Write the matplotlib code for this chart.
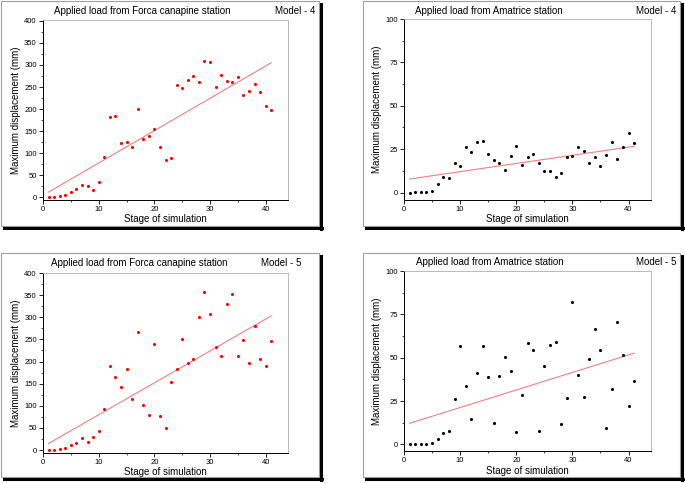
import numpy as np
import matplotlib
matplotlib.use("Agg")
import matplotlib.pyplot as plt
from matplotlib.patches import Rectangle
from matplotlib.lines import Line2D
from matplotlib.ticker import MultipleLocator

plt.rcParams['font.family'] = ['Liberation Sans', 'DejaVu Sans']

stage = list(range(1, 42))

forca_m4 = [0, 0, 2, 5, 12, 19, 29, 26, 17, 34, 92, 181, 184, 123, 125, 115, 200,
            133, 138, 155, 115, 85, 88, 254, 248, 265, 275, 261, 310, 307, 251,
            277, 264, 262, 272, 232, 241, 257, 238, 207, 197]
amatrice_m4 = [0, 0.2, 0.4, 0.2, 0.8, 5, 8.7, 8.5, 17.1, 15.2, 26, 23.5, 29.2, 29.6,
               22, 18.7, 17.1, 13.1, 21.2, 26.7, 15.9, 20.4, 22.5, 16.9, 12.3, 12.3,
               9.2, 11, 20.2, 20.8, 26.2, 23.7, 16.9, 20.6, 15.4, 21.5, 29, 19.4,
               26, 34.6, 28.5]
forca_m5 = [0, 0, 2, 5, 12, 17, 28, 19, 29, 44, 92, 190, 166, 143, 183, 116, 267,
            102, 80, 240, 77, 49, 153, 184, 251, 197, 206, 301, 357, 307, 232,
            212, 329, 352, 212, 249, 196, 280, 205, 189, 246]
amatrice_m5 = [0, 0.2, 0.4, 0.4, 0.6, 2.9, 6.5, 7.5, 26.3, 56.5, 33.8, 14.4, 41.2,
               56.5, 39, 12.3, 39.6, 50.6, 42.5, 6.9, 28.5, 58.5, 54.2, 7.7, 45.2,
               57.1, 59.2, 11.5, 26.5, 81.9, 40.2, 27.3, 49.2, 66.7, 54.6, 9.2,
               32.1, 70.4, 51.3, 22.3, 36.7]

W, H = 685, 483
fig = plt.figure(figsize=(W / 100, H / 100), dpi=100)


def fx(px):
    return px / W


def fy(py):
    return 1 - py / H


panels = [
    # data, color, title, model, axes box (l, t, r, b), ylim, yticks step, frame (l, t, r, b), title x, model right x, text y
    (forca_m4, "red", "Applied load from Forca canapine station", "Model - 4",
     (43, 20, 288, 199.5), (-5, 402), 50, (1, 1, 319, 226), 142, 315, 10.5),
    (amatrice_m4, "black", "Applied load from Amatrice station", "Model - 4",
     (404, 19, 651, 199.5), (-4, 100), 25, (363, 1, 680, 226), 488.5, 676, 10.5),
    (forca_m5, "red", "Applied load from Forca canapine station", "Model - 5",
     (43, 273, 288, 452.7), (-6, 400), 50, (1, 253, 319, 477), 139.5, 301, 262.5),
    (amatrice_m5, "black", "Applied load from Amatrice station", "Model - 5",
     (404, 271, 651, 451), (-3.8, 100), 25, (363, 253, 680, 477), 489.5, 676, 262),
]

for vals, col, title, model, box, ylim, ystep, frame, tx, mx, ty in panels:
    l, t, r, b = frame
    fig.add_artist(Rectangle((fx(l), fy(b)), fx(r - l), (b - t) / H,
                             transform=fig.transFigure, fill=False,
                             edgecolor="#a0a0a0", linewidth=0.8))
    # drop shadow
    fig.add_artist(Line2D([fx(r + 2), fx(r + 2)], [fy(t + 3), fy(b + 2.5)],
                          transform=fig.transFigure, color="black", linewidth=2.2))
    fig.add_artist(Line2D([fx(l + 3), fx(r + 2.8)], [fy(b + 2), fy(b + 2)],
                          transform=fig.transFigure, color="black", linewidth=2.2))

    al, at, ar, ab = box
    ax = fig.add_axes([fx(al), fy(ab), fx(ar - al), (ab - at) / H])
    ax.scatter(stage, vals, s=5, color=col, marker="o", linewidths=0, zorder=3)
    k, c = np.polyfit(stage, vals, 1)
    xs = np.array([stage[0], stage[-1]])
    ax.plot(xs, k * xs + c, color="#f08080", linewidth=0.8, zorder=2)
    ax.set_xlim(0, 44)
    ax.set_ylim(*ylim)
    ax.xaxis.set_major_locator(MultipleLocator(10))
    ax.xaxis.set_minor_locator(MultipleLocator(5))
    ax.yaxis.set_major_locator(MultipleLocator(ystep))
    ax.yaxis.set_minor_locator(MultipleLocator(ystep / 2))
    ax.tick_params(which="major", direction="out", length=3, width=0.6, labelsize=5.5, pad=1.5)
    ax.tick_params(which="minor", direction="out", length=1.5, width=0.5)
    for s in ["top", "right"]:
        ax.spines[s].set_color("#b0b0b0")
        ax.spines[s].set_linewidth(0.6)
    for s in ["left", "bottom"]:
        ax.spines[s].set_linewidth(0.7)
    ax.set_xlabel("Stage of simulation", fontsize=7, labelpad=1)
    ax.set_ylabel("Maximum displacement (mm)", fontsize=7, labelpad=2)

    fig.text(fx(tx), fy(ty), title, fontsize=7, ha="center", va="center")
    fig.text(fx(mx), fy(ty), model, fontsize=7, ha="right", va="center")

fig.savefig("out.png", dpi=100)
